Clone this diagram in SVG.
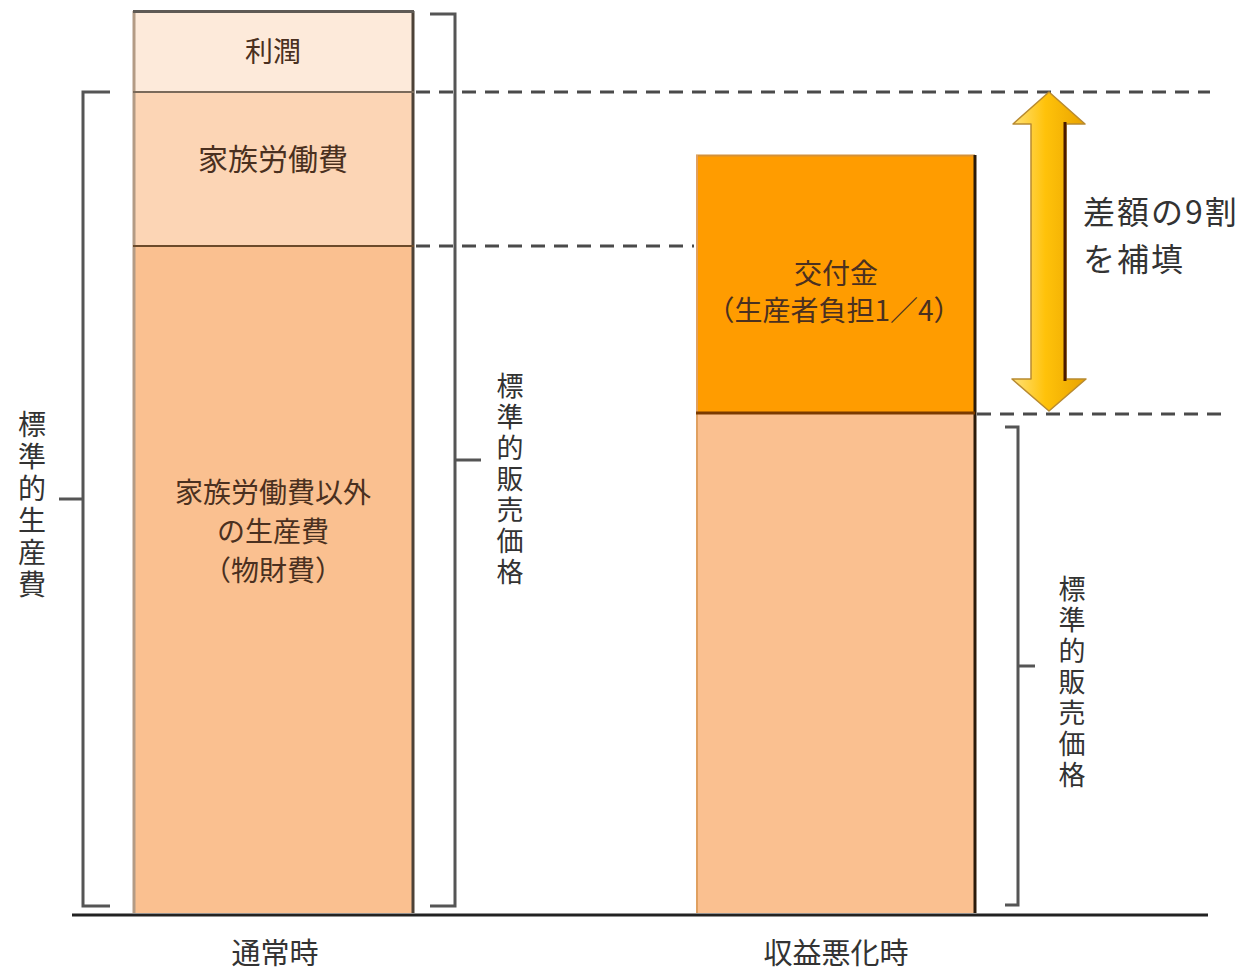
<svg xmlns="http://www.w3.org/2000/svg" width="1252" height="973" viewBox="0 0 1252 973">
<defs>
<style>
text{font-family:"Noto Sans CJK JP","Noto Sans",sans-serif;fill:#333;}
.in{fill:#4a3020;}
.h{text-anchor:middle;dominant-baseline:central;}
.v{writing-mode:vertical-rl;text-anchor:middle;letter-spacing:4px;}
.dash{stroke:#4a4a4a;stroke-width:3;stroke-dasharray:14 9;fill:none;}
.br{stroke:#555;stroke-width:3;fill:none;}
</style>
<linearGradient id="arrowGrad" x1="0" y1="0" x2="1" y2="0">
<stop offset="0" stop-color="#FFE27A"/>
<stop offset="0.45" stop-color="#FFC20A"/>
<stop offset="1" stop-color="#E9A300"/>
</linearGradient>
</defs>
<rect width="1252" height="973" fill="#fff"/>

<g id="bar-normal">
<rect x="133" y="11" width="281" height="81" fill="#FDEADA"/>
<rect x="133" y="92" width="281" height="154" fill="#FCD5B5"/>
<rect x="133" y="246" width="281" height="667" fill="#FAC090"/>
<line x1="134" y1="11" x2="134" y2="913" stroke="#B39B85" stroke-width="3"/>
<line x1="413" y1="11" x2="413" y2="913" stroke="#4D4237" stroke-width="3"/>
<line x1="133" y1="11.5" x2="414" y2="11.5" stroke="#5F5A55" stroke-width="3"/>
<line x1="133" y1="92" x2="414" y2="92" stroke="#7A6A5A" stroke-width="2"/>
<line x1="133" y1="246" x2="414" y2="246" stroke="#6B4A2A" stroke-width="2"/>
</g>

<g id="label-profit"><text class="h in" x="273" y="50" font-size="28">利潤</text></g>
<g id="label-family-labor"><text class="h in" x="273" y="157" font-size="30">家族労働費</text></g>
<g id="label-material">
<text class="h in" x="273" y="491" font-size="28">家族労働費以外</text>
<text class="h in" x="273" y="530" font-size="28">の生産費</text>
<text class="h in" x="273" y="569" font-size="28">（物財費）</text>
</g>

<g id="bar-worse">
<rect x="696" y="155" width="279" height="258" fill="#FF9C00"/>
<rect x="696" y="413" width="279" height="500" fill="#FAC090"/>
<line x1="696" y1="155.5" x2="975" y2="155.5" stroke="#D4913A" stroke-width="2"/>
<line x1="697" y1="155" x2="697" y2="913" stroke="#E0A060" stroke-width="2"/>
<line x1="975" y1="155" x2="975" y2="913" stroke="#2A1A0A" stroke-width="3"/>
<line x1="696" y1="413" x2="975" y2="413" stroke="#7A3A00" stroke-width="3"/>
</g>

<g id="label-subsidy">
<text class="h in" x="836" y="272" font-size="28">交付金</text>
<text class="h in" x="834" y="309" font-size="28">（生産者負担1／4）</text>
</g>

<g id="connectors">
<line x1="72" y1="915" x2="1208" y2="915" stroke="#222" stroke-width="3"/>
<line class="dash" x1="416" y1="92" x2="1210" y2="92"/>
<line class="dash" x1="416" y1="246" x2="694" y2="246"/>
<line class="dash" x1="977" y1="414" x2="1230" y2="414"/>
<path class="br" d="M110,92 H83 V906 H110 M83,499 H59"/>
<path class="br" d="M430,14 H455 V906 H430 M455,460 H481"/>
<path class="br" d="M1005,427 H1018 V905 H1005 M1018,666 H1035"/>
</g>

<g id="arrow-diff">
<polygon points="1049,92 1085,124 1066,124 1066,379 1086,379 1049,411 1012,379 1031,379 1031,124 1013,124" fill="url(#arrowGrad)" stroke="#B88A30" stroke-width="1.5" stroke-linejoin="round"/>
<line x1="1065" y1="122" x2="1065" y2="381" stroke="#4A1A00" stroke-width="3"/>
</g>

<g id="label-diff">
<text x="1083" y="210" font-size="32" letter-spacing="2" dominant-baseline="central">差額の9割</text>
<text x="1083" y="257" font-size="32" letter-spacing="2" dominant-baseline="central">を補填</text>
</g>

<g id="label-std-cost"><text class="v" x="32" y="506" font-size="28">標準的生産費</text></g>
<g id="label-std-price-1"><text class="v" x="510" y="481" font-size="27">標準的販売価格</text></g>
<g id="label-std-price-2"><text class="v" x="1072" y="684" font-size="27">標準的販売価格</text></g>

<g id="label-normal"><text class="h" x="275" y="951" font-size="29">通常時</text></g>
<g id="label-worse"><text class="h" x="836" y="951" font-size="29">収益悪化時</text></g>
</svg>
